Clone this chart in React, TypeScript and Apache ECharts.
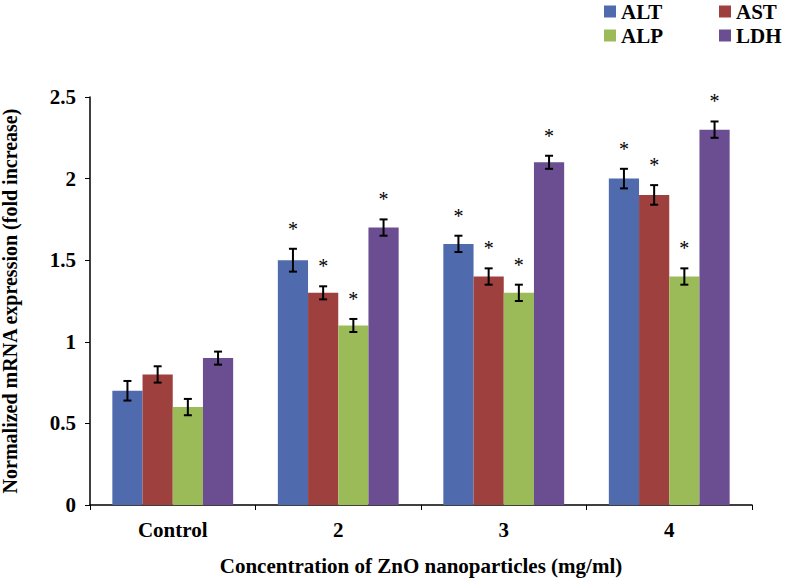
import React, { useEffect, useRef } from "react";
import * as echarts from "echarts";

const categories = ["Control", "2", "3", "4"];
const seriesNames = ["ALT", "AST", "ALP", "LDH"];
const altValues = [0.7, 1.5, 1.6, 2.0];
const astValues = [0.8, 1.3, 1.4, 1.9];
const alpValues = [0.6, 1.1, 1.3, 1.4];
const ldhValues = [0.9, 1.7, 2.1, 2.3];
const altErrors = [0.06, 0.07, 0.05, 0.06];
const astErrors = [0.05, 0.04, 0.05, 0.06];
const alpErrors = [0.05, 0.04, 0.05, 0.05];
const ldhErrors = [0.04, 0.05, 0.04, 0.05];
const significant = [false, true, true, true];
const yTicks = ["0", "0.5", "1", "1.5", "2", "2.5"];

const colors = ["#4F6BAD", "#9E413E", "#9BBB59", "#6A4E91"];
const FONT = "Liberation Serif";
const CAT_GAP = 0.27;

export default function App() {
  const ref = useRef<HTMLDivElement>(null);
  useEffect(() => {
    if (!ref.current) return;
    const chart = echarts.init(ref.current, undefined, { renderer: "svg" });
    const values = [altValues, astValues, alpValues, ldhValues];
    const errors = [altErrors, astErrors, alpErrors, ldhErrors];

    const barSeries = seriesNames.map((name, i) => ({
      name,
      type: "bar",
      data: values[i],
      barGap: "0%",
      barCategoryGap: CAT_GAP * 100 + "%",
      itemStyle: { color: colors[i] },
    }));

    const errData: number[][] = [];
    values.forEach((vals, s) => {
      vals.forEach((v, c) => {
        errData.push([c, v, errors[s][c], s, significant[c] ? 1 : 0]);
      });
    });

    const errSeries = {
      type: "custom",
      name: "err",
      data: errData,
      z: 10,
      encode: { x: 0, y: 1 },
      renderItem: (params: any, api: any) => {
        const c = api.value(0);
        const v = api.value(1);
        const e = api.value(2);
        const s = api.value(3);
        const sig = api.value(4);
        const band = api.size([1, 0])[0];
        const bw = (band * (1 - CAT_GAP)) / 4;
        const center = api.coord([c, v]);
        const x = center[0] + (s - 1.5) * bw;
        const top = api.coord([c, v + e])[1];
        const bot = api.coord([c, v - e])[1];
        const cap = 4;
        const st = { stroke: "#000", lineWidth: 2 };
        const children: any[] = [
          { type: "line", shape: { x1: x, y1: top, x2: x, y2: bot }, style: st },
          { type: "line", shape: { x1: x - cap, y1: top, x2: x + cap, y2: top }, style: st },
          { type: "line", shape: { x1: x - cap, y1: bot, x2: x + cap, y2: bot }, style: st },
        ];
        if (sig) {
          children.push({
            type: "text",
            style: {
              text: "*",
              x: x,
              y: top - 20,
              align: "center",
              verticalAlign: "middle",
              font: "20px " + FONT,
              fill: "#000",
            },
          });
        }
        return { type: "group", children };
      },
    };

    const legendText = { fontFamily: FONT, fontWeight: "bold", fontSize: 21, color: "#000" };
    const option: any = {
      animation: false,
      grid: { left: 90, right: 35, top: 97, bottom: 76, containLabel: false, outerBoundsMode: "none" },
      legend: [
        {
          data: ["ALT", "ALP"],
          orient: "vertical",
          left: 599,
          top: -4,
          itemWidth: 12,
          itemHeight: 12,
          itemGap: 3,
          icon: "rect",
          textStyle: legendText,
        },
        {
          data: ["AST", "LDH"],
          orient: "vertical",
          left: 714,
          top: -4,
          itemWidth: 12,
          itemHeight: 12,
          itemGap: 3,
          icon: "rect",
          textStyle: legendText,
        },
      ],
      xAxis: {
        type: "category",
        data: categories,
        name: "Concentration of ZnO nanoparticles (mg/ml)",
        nameLocation: "middle",
        nameGap: 50,
        nameTextStyle: { fontFamily: FONT, fontWeight: "bold", fontSize: 21, color: "#000" },
        axisLine: { lineStyle: { color: "#000", width: 1.5 } },
        axisTick: { show: true, length: 5, lineStyle: { color: "#000" } },
        axisLabel: { fontFamily: FONT, fontWeight: "bold", fontSize: 21, color: "#000", margin: 14 },
      },
      yAxis: {
        type: "value",
        min: 0,
        max: 2.5,
        interval: 0.5,
        name: "Normalized mRNA expression (fold increase)",
        nameLocation: "middle",
        nameGap: 70,
        nameTextStyle: { fontFamily: FONT, fontWeight: "bold", fontSize: 20, color: "#000" },
        axisLine: { show: true, lineStyle: { color: "#000", width: 1.5 } },
        axisTick: { show: true, length: 5, lineStyle: { color: "#000" } },
        splitLine: { show: false },
        axisLabel: {
          fontFamily: FONT,
          fontWeight: "bold",
          fontSize: 21,
          color: "#000",
          margin: 14,
          formatter: (v: number) => yTicks[Math.round(v / 0.5)] ?? String(v),
        },
      },
      series: [...barSeries, errSeries],
    };
    chart.setOption(option);
    return () => chart.dispose();
  }, []);
  return (
    <div
      ref={ref}
      style={{ position: "absolute", left: 0, top: 0, width: 787, height: 581 }}
    />
  );
}
